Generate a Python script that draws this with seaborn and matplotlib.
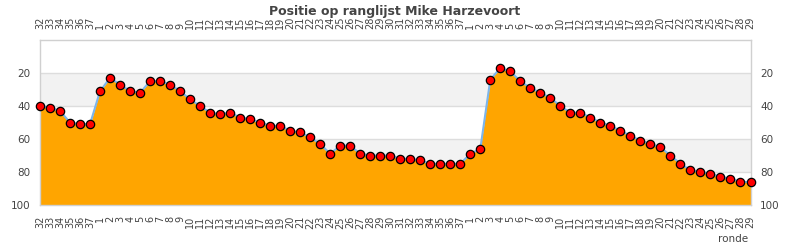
import matplotlib
matplotlib.use("Agg")
import matplotlib.pyplot as plt
import seaborn as sns
import numpy as np
import pandas as pd

title = "Positie op ranglijst Mike Harzevoort"
rounds = ([str(r) for r in range(32, 38)] + [str(r) for r in range(1, 38)]
          + [str(r) for r in range(1, 30)])
positions = [40, 41, 43, 50, 51, 51, 31, 23, 27, 31, 32, 25, 25, 27, 31, 36,
             40, 44, 45, 44, 47, 48, 50, 52, 52, 55, 56, 59, 63, 69, 64, 64,
             69, 70, 70, 70,
             72, 72, 73, 75, 75, 75, 75, 69, 66, 24, 17, 19, 25, 29, 32, 35,
             40, 44, 44, 47, 50, 52, 55, 58, 61, 63, 65, 70, 75, 79, 80, 81,
             83, 84, 86, 86]
yticks = [20, 40, 60, 80, 100]

df = pd.DataFrame({"i": np.arange(len(rounds)), "ronde": rounds, "pos": positions})

sns.set_theme(style="white")
plt.rcParams['font.family'] = ['DejaVu Sans']

fig = plt.figure(figsize=(7.9, 2.5), dpi=100)
ax = fig.add_axes([40/790, 1-205/250, 710.5/790, 165/250])

# alternating bands
for lo, hi in [(20, 40), (60, 80)]:
    ax.axhspan(lo, hi, color="#f2f2f2", zorder=0, lw=0)
for y in [20, 40, 60, 80]:
    ax.axhline(y, color="#dddddd", lw=1, zorder=0.5)

ax.fill_between(df["i"], df["pos"], 100, color="#ffa500", zorder=1, lw=0)
sns.lineplot(data=df, x="i", y="pos", ax=ax, color="#7cb5ec", lw=1.5,
             marker="o", markersize=6, markerfacecolor="#ff0000",
             markeredgecolor="black", markeredgewidth=0.9, zorder=3, clip_on=False)

ax.set_xlim(0, len(rounds) - 1)
ax.set_ylim(100, 0)
ax.set_yticks(yticks)
ax.set_xticks(df["i"])
ax.set_xticklabels(rounds)
ax.set_xlabel("")
ax.set_ylabel("")
ax.tick_params(axis="x", labeltop=True, labelbottom=True, labelrotation=90,
               length=0, pad=8, labelsize=7, colors="#444444")
ax.tick_params(axis="y", labelleft=True, labelright=True, length=0, pad=7,
               labelsize=7.5, colors="#444444")
for s in ax.spines.values():
    s.set_color("#d0d0d0")
    s.set_linewidth(1)

fig.text(0.5, 1 - 12/250, title, ha="center", va="center", fontsize=9,
         fontweight="bold", color="#444444")
fig.text(748/790, 1 - 239/250, "ronde", ha="right", va="center", fontsize=7.5,
         color="#444444")

fig.savefig("out.png", dpi=100)
